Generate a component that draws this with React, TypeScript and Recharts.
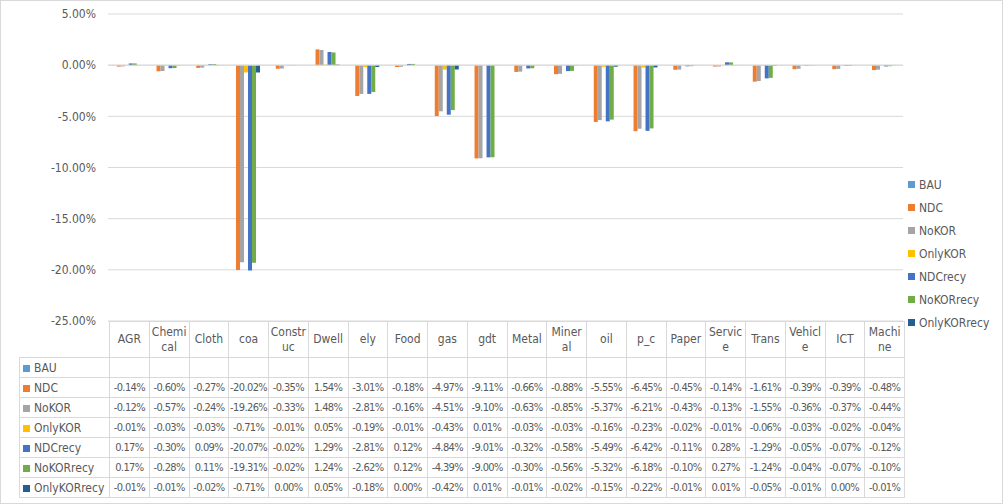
import React from "react"
import { BarChart, Bar, XAxis, YAxis, CartesianGrid, ReferenceLine } from "recharts"

const categories = ["AGR", "Chemical", "Cloth", "coa", "Construc", "Dwell", "ely", "Food", "gas", "gdt", "Metal", "Mineral", "oil", "p_c", "Paper", "Service", "Trans", "Vehicle", "ICT", "Machine"]

const bau: (number | null)[] = categories.map(() => null)
const ndc = [-0.14, -0.6, -0.27, -20.02, -0.35, 1.54, -3.01, -0.18, -4.97, -9.11, -0.66, -0.88, -5.55, -6.45, -0.45, -0.14, -1.61, -0.39, -0.39, -0.48]
const noKor = [-0.12, -0.57, -0.24, -19.26, -0.33, 1.48, -2.81, -0.16, -4.51, -9.1, -0.63, -0.85, -5.37, -6.21, -0.43, -0.13, -1.55, -0.36, -0.37, -0.44]
const onlyKor = [-0.01, -0.03, -0.03, -0.71, -0.01, 0.05, -0.19, -0.01, -0.43, 0.01, -0.03, -0.03, -0.16, -0.23, -0.02, -0.01, -0.06, -0.03, -0.02, -0.04]
const ndcRecy = [0.17, -0.3, 0.09, -20.07, -0.02, 1.29, -2.81, 0.12, -4.84, -9.01, -0.32, -0.58, -5.49, -6.42, -0.11, 0.28, -1.29, -0.05, -0.07, -0.12]
const noKorRecy = [0.17, -0.28, 0.11, -19.31, -0.02, 1.24, -2.62, 0.12, -4.39, -9.0, -0.3, -0.56, -5.32, -6.18, -0.1, 0.27, -1.24, -0.04, -0.07, -0.1]
const onlyKorRecy = [-0.01, -0.01, -0.02, -0.71, 0.0, 0.05, -0.18, 0.0, -0.42, 0.01, -0.01, -0.02, -0.15, -0.22, -0.01, 0.01, -0.05, -0.01, 0.0, -0.01]

const yTicks = [5, 0, -5, -10, -15, -20, -25]

const SERIES = [
  { key: "BAU", values: bau, color: "#5B9BD5" },
  { key: "NDC", values: ndc, color: "#ED7D31" },
  { key: "NoKOR", values: noKor, color: "#A5A5A5" },
  { key: "OnlyKOR", values: onlyKor, color: "#FFC000" },
  { key: "NDCrecy", values: ndcRecy, color: "#4472C4" },
  { key: "NoKORrecy", values: noKorRecy, color: "#70AD47" },
  { key: "OnlyKORrecy", values: onlyKorRecy, color: "#255E91" },
]

const data = categories.map((name, i) => {
  const row: Record<string, string | number | null> = { name }
  SERIES.forEach((s) => {
    row[s.key] = s.values[i]
  })
  return row
})

const W = 1003
const H = 504
const PLOT_LEFT = 108
const PLOT_RIGHT = 903
const PLOT_TOP = 14
const PLOT_BOTTOM = 321
const COL_W = (PLOT_RIGHT - PLOT_LEFT) / categories.length
const LABEL_LEFT = 18
const TEXT = "#595959"
const LINE = "#d9d9d9"
const FONT = "'Liberation Sans Narrow', 'DejaVu Sans Condensed', 'Liberation Sans', sans-serif"

const pct = (v: number | null) => (v === null ? "" : `${v.toFixed(2)}%`)

function SideLegend() {
  return (
    <div style={{ position: "absolute", left: 907, top: 172, fontFamily: FONT, fontSize: 12, color: TEXT }}>
      {SERIES.map((s) => (
        <div key={s.key} style={{ display: "flex", alignItems: "center", height: 23 }}>
          <span style={{ width: 7, height: 7, background: s.color, marginRight: 4 }} />
          <span>{s.key}</span>
        </div>
      ))}
    </div>
  )
}

function DataTable() {
  const cell: React.CSSProperties = {
    border: `1px solid ${LINE}`,
    padding: 0,
    textAlign: "center",
    whiteSpace: "nowrap",
    height: 19,
  }
  return (
    <table
      style={{
        position: "absolute",
        left: LABEL_LEFT,
        top: PLOT_BOTTOM - 1,
        borderCollapse: "collapse",
        tableLayout: "fixed",
        width: PLOT_RIGHT - LABEL_LEFT,
        fontFamily: FONT,
        fontSize: 12,
        color: TEXT,
      }}
    >
      <colgroup>
        <col style={{ width: PLOT_LEFT - LABEL_LEFT }} />
        {categories.map((c) => (
          <col key={c} style={{ width: COL_W }} />
        ))}
      </colgroup>
      <tbody>
        <tr>
          <td style={{ padding: 0, height: 35 }} />
          {categories.map((c) => (
            <td
              key={c}
              style={{ ...cell, height: 35, whiteSpace: "normal", wordBreak: "break-all", lineHeight: "15px", padding: "0 1px" }}
            >
              {c}
            </td>
          ))}
        </tr>
        {SERIES.map((s) => (
          <tr key={s.key}>
            <td style={{ ...cell, textAlign: "left", paddingLeft: 3 }}>
              <span style={{ display: "inline-block", width: 7, height: 7, background: s.color, marginRight: 4 }} />
              {s.key}
            </td>
            {s.values.map((v, i) => (
              <td key={i} style={cell}>
                <div style={{ overflow: "hidden", width: COL_W - 1, fontSize: 11, letterSpacing: -0.6 }}>{pct(v)}</div>
              </td>
            ))}
          </tr>
        ))}
      </tbody>
    </table>
  )
}

export default function App() {
  return (
    <div style={{ position: "relative", width: W, height: H, background: "#fff", boxSizing: "border-box", border: `1px solid ${LINE}` }}>
      <style>{"body{margin:0}"}</style>
      <BarChart
        width={W - 2}
        height={H - 2}
        data={data}
        margin={{ top: PLOT_TOP - 1, right: W - 1 - PLOT_RIGHT, bottom: H - 1 - PLOT_BOTTOM, left: 0 }}
        barCategoryGap="12%"
        barGap={0}
      >
        <CartesianGrid vertical={false} stroke={LINE} />
        <XAxis dataKey="name" hide />
        <YAxis
          width={PLOT_LEFT - 1}
          domain={[-25, 5]}
          ticks={yTicks}
          interval={0}
          tickFormatter={(v: number) => `${v.toFixed(2)}%`}
          tick={{ fill: TEXT, fontSize: 12, fontFamily: FONT }}
          tickSize={0}
          tickMargin={12}
          axisLine={false}
        />
        <ReferenceLine y={0} stroke={LINE} />
        {SERIES.map((s) => (
          <Bar key={s.key} dataKey={s.key} fill={s.color} isAnimationActive={false} />
        ))}
      </BarChart>
      <SideLegend />
      <DataTable />
    </div>
  )
}
